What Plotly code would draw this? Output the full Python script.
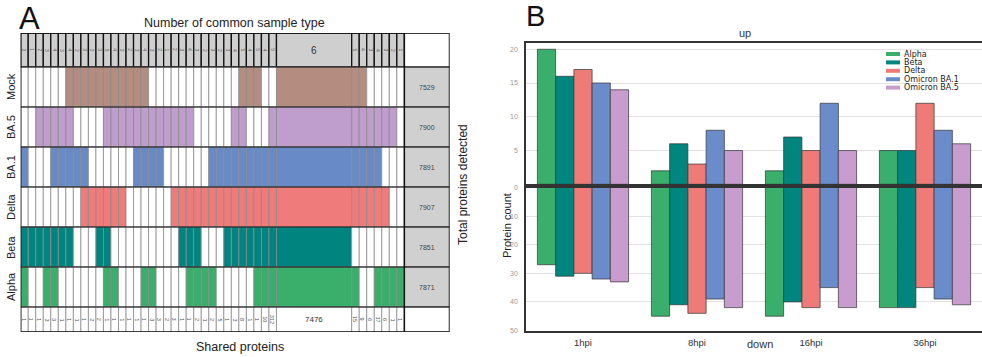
import plotly.graph_objects as go

# ---------------- Panel A data ----------------
samples = ["Mock", "BA.5", "BA.1", "Delta", "Beta", "Alpha"]
sample_colors = ["#b58d80", "#bf9dcc", "#688ac7", "#ef7c7a", "#008480", "#3aae6b"]

membership = {
    "Mock":  "000000" "11111111111" "000000000000" "111" "00" "111" "00000",
    "BA.5":  "00" "11111" "0000" "111111111111" "00000" "11" "000" "11111111" "0",
    "BA.1":  "1" "000" "11111" "000000" "1111" "000000" "11111111111111" "000",
    "Delta": "00000000" "111111" "000000" "11111111111111111111" "00",
    "Beta":  "1111111" "000" "11" "000000000" "111" "000" "11111111" "0000000",
    "Alpha": "1" "00" "11" "000000" "11" "000" "11" "0000" "1111" "00000" "11111" "00" "1111",
}

shared_proteins = [1, 1, 1, 3, 3, 1, 1, 1, 1, 2, 2, 1, 1, 1, 1, 1, 1, 3, 3, 2, 3, 1,
                   1, 2, 1, 2, 5, 1, 3, 8, 1, 1, 10, 312, 7476, 15, 9, 6, 17, 6, 1, 1]
total_detected = [7529, 7900, 7891, 7907, 7851, 7871]

# ---------------- Panel B data ----------------
timepoints = ["1hpi", "8hpi", "16hpi", "36hpi"]
variants = ["Alpha", "Beta", "Delta", "Omicron BA.1", "Omicron BA.5"]
variant_colors = ["#3aae6b", "#00867f", "#ef7b78", "#6a8ccb", "#c89ccf"]
up_counts = {
    "Alpha":        [20, 2, 2, 5],
    "Beta":         [16, 6, 7, 5],
    "Delta":        [17, 3, 5, 12],
    "Omicron BA.1": [15, 8, 12, 8],
    "Omicron BA.5": [14, 5, 5, 6],
}
down_counts = {
    "Alpha":        [27, 45, 45, 42],
    "Beta":         [31, 41, 40, 42],
    "Delta":        [30, 44, 42, 35],
    "Omicron BA.1": [32, 39, 35, 39],
    "Omicron BA.5": [33, 42, 42, 41],
}

# ---------------- layout helpers ----------------
W, H = 982, 357
def px(x):
    return x / W
def py(y):
    return 1 - y / H

FONT = "Liberation Sans"
n_cols = len(shared_proteins)
col_widths = [10 if v == max(shared_proteins) else 1 for v in shared_proteins]
edges = [0]
for w in col_widths:
    edges.append(edges[-1] + w)
centers = [(edges[i] + edges[i + 1]) / 2 for i in range(n_cols)]
grid_right = edges[-1]
tot_w = 6
x_max = grid_right + tot_w

top_h, row_h, bot_h = 34, 40, 25
row_tops = [top_h + i * row_h for i in range(len(samples))]
bot_top = top_h + len(samples) * row_h
y_max = bot_top + bot_h
A_TOP = 33

members = {s: [int(c) for c in membership[s]] for s in samples}
degree = [sum(members[s][i] for s in samples) for i in range(n_cols)]

fig = go.Figure()
offs = [-w / 2 for w in col_widths]

# top row: number of common sample types
fig.add_trace(go.Bar(x=centers, y=[top_h] * n_cols, base=[0] * n_cols, width=col_widths,
                     offset=offs, marker=dict(color="#cfcfcf", line=dict(color="#111", width=1.3)),
                     xaxis="x", yaxis="y", showlegend=False, hoverinfo="skip"))
# membership rows
for s, c, t in zip(samples, sample_colors, row_tops):
    cols = [c if m else "white" for m in members[s]]
    fig.add_trace(go.Bar(x=centers, y=[row_h] * n_cols, base=[t] * n_cols, width=col_widths,
                         offset=offs, marker=dict(color=cols, line=dict(color="#8c8c8c", width=0.8)),
                         xaxis="x", yaxis="y", showlegend=False, hoverinfo="skip"))
# bottom row: shared proteins
fig.add_trace(go.Bar(x=centers, y=[bot_h] * n_cols, base=[bot_top] * n_cols, width=col_widths,
                     offset=offs, marker=dict(color="white", line=dict(color="#8c8c8c", width=0.8)),
                     xaxis="x", yaxis="y", showlegend=False, hoverinfo="skip"))
# totals column
tx = grid_right + tot_w / 2
fig.add_trace(go.Bar(x=[tx] * 8, y=[top_h] + [row_h] * 6 + [bot_h], base=[0] + row_tops + [bot_top],
                     width=[tot_w] * 8, offset=[-tot_w / 2] * 8,
                     marker=dict(color=["white"] + ["#d0d0d0"] * 6 + ["white"],
                                 line=dict(color="#555", width=0.8)),
                     xaxis="x", yaxis="y", showlegend=False, hoverinfo="skip"))

shapes = []
shapes.append(dict(type="rect", xref="x", yref="y", x0=0, x1=x_max, y0=0, y1=y_max,
                   line=dict(color="#111", width=1.5)))
for yb in [top_h] + [t + row_h for t in row_tops]:
    shapes.append(dict(type="line", xref="x", yref="y", x0=0, x1=x_max, y0=yb, y1=yb,
                       line=dict(color="#111", width=1.2)))
shapes.append(dict(type="line", xref="x", yref="y", x0=grid_right, x1=grid_right, y0=0, y1=y_max,
                   line=dict(color="#111", width=1.5)))

ann = []
for i in range(n_cols):
    if col_widths[i] > 1:
        ann.append(dict(x=centers[i], y=top_h / 2, xref="x", yref="y", text=str(degree[i]),
                        font=dict(family=FONT, size=10, color="#333")))
        ann.append(dict(x=centers[i], y=bot_top + bot_h / 2, xref="x", yref="y", text=str(shared_proteins[i]),
                        font=dict(family=FONT, size=8, color="#333")))
    else:
        ann.append(dict(x=centers[i], y=top_h / 2, xref="x", yref="y", text=str(degree[i]),
                        textangle=90, font=dict(family=FONT, size=5, color="#666")))
        ann.append(dict(x=centers[i], y=bot_top + bot_h / 2, xref="x", yref="y", text=str(shared_proteins[i]),
                        textangle=90, font=dict(family=FONT, size=5.5, color="#555")))
for s, t, v in zip(samples, row_tops, total_detected):
    ann.append(dict(x=tx, y=t + row_h / 2, xref="x", yref="y", text=str(v),
                    font=dict(family=FONT, size=7, color="#444")))
    ann.append(dict(x=px(11), y=py(A_TOP + t + row_h / 2), xref="paper", yref="paper", text=s,
                    textangle=-90, font=dict(family=FONT, size=11, color="#222")))

ann += [
    dict(x=px(29), y=py(18), text="A", font=dict(family=FONT, size=31, color="#111")),
    dict(x=px(535), y=py(16), text="B", font=dict(family=FONT, size=29, color="#111")),
    dict(x=px(234), y=py(23), text="Number of common sample type", font=dict(family=FONT, size=12.5, color="#222")),
    dict(x=px(240), y=py(347), text="Shared proteins", font=dict(family=FONT, size=12.5, color="#222")),
    dict(x=px(463), y=py(185), text="Total proteins detected", textangle=-90,
         font=dict(family=FONT, size=12, color="#222")),
    dict(x=px(745), y=py(33), text="up", font=dict(family=FONT, size=11, color="#333")),
    dict(x=px(760), y=py(344), text="down", font=dict(family=FONT, size=11, color="#333")),
    dict(x=px(507), y=py(226), text="Protein count", textangle=-90, font=dict(family=FONT, size=11, color="#222")),
]
for a in ann[-8:]:
    a.update(xref="paper", yref="paper")

# custom compact legend
leg_y0, leg_dy = 54, 8.4
for k, (v, c) in enumerate(zip(variants, variant_colors)):
    yc = leg_y0 + k * leg_dy
    shapes.append(dict(type="rect", xref="paper", yref="paper", x0=px(886), x1=px(900),
                       y0=py(yc + 2), y1=py(yc - 2), fillcolor=c, line=dict(width=0)))
    ann.append(dict(x=px(902), y=py(yc), xref="paper", yref="paper", text=v, xanchor="left",
                    font=dict(family="DejaVu Sans", size=8, color="#222")))

for a in ann:
    a["showarrow"] = False
    a.setdefault("xanchor", "center")
    a.setdefault("yanchor", "middle")

# ---------------- Panel B traces ----------------
for v, c in zip(variants, variant_colors):
    fig.add_trace(go.Bar(x=timepoints, y=up_counts[v], name=v, legendgroup=v, showlegend=False,
                         marker=dict(color=c, line=dict(color="#333", width=0.7)),
                         xaxis="x2", yaxis="y2"))
for v, c in zip(variants, variant_colors):
    fig.add_trace(go.Bar(x=timepoints, y=down_counts[v], name=v, legendgroup=v, showlegend=False,
                         marker=dict(color=c, line=dict(color="#333", width=0.7)),
                         xaxis="x3", yaxis="y3"))

bx0 = px(526)
frame = dict(showline=True, mirror=True, linecolor="#333", linewidth=1.5)
fig.update_layout(
    width=W, height=H, margin=dict(l=0, r=0, t=0, b=0, autoexpand=False),
    paper_bgcolor="white", plot_bgcolor="white",
    barmode="group", bargap=0.2, bargroupgap=0,
    font=dict(family=FONT), showlegend=False,
    shapes=shapes, annotations=ann,
    xaxis=dict(domain=[px(20.7), px(449.5)], range=[0, x_max], visible=False, fixedrange=True),
    yaxis=dict(domain=[py(A_TOP + y_max), py(A_TOP)], range=[y_max, 0], visible=False, fixedrange=True),
    xaxis2=dict(domain=[bx0, 1.0], anchor="y2", range=[-0.5, 3.5], showticklabels=False,
                showgrid=False, **frame),
    yaxis2=dict(domain=[py(184.3), py(42.5)], anchor="x2", range=[0, 21], tickvals=[5, 10, 15, 20],
                gridcolor="#e3e3e3", gridwidth=1.2, zeroline=False, ticklabelstandoff=5,
                tickfont=dict(family=FONT, size=7, color="#999"), **frame),
    xaxis3=dict(domain=[bx0, 1.0], anchor="y3", range=[-0.5, 3.5], showgrid=False,
                tickfont=dict(family=FONT, size=9.5, color="#333"), ticklabelstandoff=2, **frame),
    yaxis3=dict(domain=[py(330.5), py(187.5)], anchor="x3", range=[50, 0], tickvals=[0, 10, 20, 30, 40, 50],
                gridcolor="#e3e3e3", gridwidth=1.2, zeroline=False, ticklabelstandoff=5,
                tickfont=dict(family=FONT, size=7, color="#999"), **frame),
)

fig.write_html("out.html", config={"displayModeBar": False},
               post_script="document.body.style.margin='0';document.body.style.padding='0';")
